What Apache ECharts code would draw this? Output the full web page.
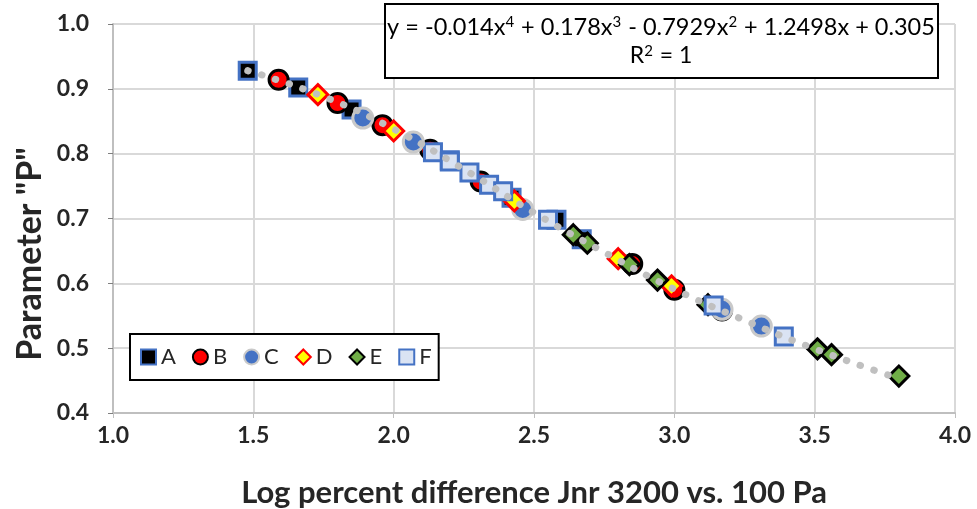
<!DOCTYPE html>
<html>
<head>
<meta charset="utf-8">
<script src="https://cdn.jsdelivr.net/npm/echarts@6/dist/echarts.min.js"></script>
<style>
  html, body { margin: 0; padding: 0; background: #fff; }
  #chart { width: 977px; height: 509px; }
</style>
</head>
<body>
<div id="chart"></div>
<script>
// data: [log % difference, parameter P]
var seriesA = [[1.48, 0.928], [1.66, 0.902], [1.85, 0.868], [2.20, 0.790], [2.42, 0.732], [2.58, 0.698], [2.67, 0.668]];
var seriesB = [[1.59, 0.914], [1.80, 0.878], [1.96, 0.844], [2.13, 0.806], [2.31, 0.757], [2.85, 0.630], [3.00, 0.590], [3.17, 0.558]];
var seriesC = [[1.89, 0.855], [2.07, 0.818], [2.46, 0.714], [3.17, 0.560], [3.31, 0.534]];
var seriesD = [[1.73, 0.891], [2.00, 0.835], [2.43, 0.727], [2.80, 0.638], [2.99, 0.596]];
var seriesE = [[2.64, 0.675], [2.69, 0.662], [2.84, 0.629], [2.94, 0.605], [3.12, 0.567], [3.51, 0.499], [3.56, 0.490], [3.80, 0.457]];
var seriesF = [[2.14, 0.802], [2.20, 0.788], [2.27, 0.771], [2.34, 0.752], [2.39, 0.742], [2.55, 0.698], [3.14, 0.566], [3.39, 0.518]];
// dotted polynomial trendline
var trendPts = [[1.48, 0.928], [1.75, 0.888], [2.0, 0.838], [2.25, 0.776], [2.5, 0.709], [2.75, 0.648], [3.0, 0.591], [3.25, 0.543], [3.5, 0.499], [3.8, 0.453]];

var xTicks = [1.0, 1.5, 2.0, 2.5, 3.0, 3.5, 4.0];
var yTicks = [0.4, 0.5, 0.6, 0.7, 0.8, 0.9, 1.0];
var xTitle = 'Log percent difference Jnr 3200 vs. 100 Pa';
var yTitle = 'Parameter "P"';
var eqLine1 = 'y = -0.014x{s|4} + 0.178x{s|3} - 0.7929x{s|2} + 1.2498x + 0.305';
var eqLine2 = 'R{s|2} = 1';

var chart = echarts.init(document.getElementById('chart'));

var fontFam = 'Lato, "Open Sans", sans-serif';

function markers(name, data, symbol, size, fill, border) {
  return {
    name: name,
    type: 'scatter',
    data: data,
    symbol: symbol,
    symbolSize: size,
    itemStyle: { color: fill, borderColor: border, borderWidth: 3, opacity: 1 },
    z: 3
  };
}

var supStyle = { s: { fontFamily: fontFam, fontSize: 15, fill: '#000', verticalAlign: 'top', padding: [0, 1, 0, 0] } };

chart.setOption({
  animation: false,
  grid: { left: 113, right: 22, top: 24, bottom: 96, outerBoundsMode: 'none', containLabel: false },
  xAxis: {
    type: 'value',
    min: xTicks[0],
    max: xTicks[xTicks.length - 1],
    interval: 0.5,
    name: xTitle,
    nameLocation: 'middle',
    nameGap: 64,
    nameTextStyle: { fontFamily: fontFam, fontSize: 31, fontWeight: 'bold', color: '#262626' },
    axisLine: { lineStyle: { color: '#bfbfbf', width: 2 } },
    axisTick: { show: true, length: 5, lineStyle: { color: '#bfbfbf' } },
    axisLabel: { fontFamily: fontFam, fontSize: 23, fontWeight: 'bold', color: '#262626', margin: 11,
      formatter: function (v) { return v.toFixed(1); } },
    splitLine: { lineStyle: { color: '#d9d9d9', width: 2 } }
  },
  yAxis: {
    type: 'value',
    min: yTicks[0],
    max: yTicks[yTicks.length - 1],
    interval: 0.1,
    axisLine: { show: true, lineStyle: { color: '#bfbfbf', width: 2 } },
    axisTick: { show: true, length: 5, lineStyle: { color: '#7f7f7f' } },
    axisLabel: { fontFamily: fontFam, fontSize: 23, fontWeight: 'bold', color: '#262626', margin: 24,
      formatter: function (v) { return v.toFixed(1); } },
    splitLine: { lineStyle: { color: '#d9d9d9', width: 2 } }
  },
  legend: {
    left: 130,
    top: 334,
    orient: 'horizontal',
    data: ['A', 'B', 'C', 'D', 'E', 'F'],
    itemWidth: 15,
    itemHeight: 15,
    itemGap: 16,
    padding: [12, 7, 12, 10],
    borderColor: '#000',
    borderWidth: 2,
    backgroundColor: '#fff',
    textStyle: { fontFamily: fontFam, fontSize: 22, color: '#262626' }
  },
  graphic: [{
    // y axis title sits a little below the axis middle in the original
    type: 'text',
    x: 30,
    y: 254,
    rotation: Math.PI / 2,
    style: { text: yTitle, fontFamily: fontFam, fontSize: 34, fontWeight: 'bold', fill: '#262626',
      align: 'center', verticalAlign: 'middle' }
  }, {
    type: 'group',
    left: 384,
    top: 3,
    z: 100,
    children: [{
      type: 'rect',
      z: 100,
      shape: { x: 0, y: 0, width: 553, height: 74 },
      style: { fill: '#fff', stroke: '#000', lineWidth: 2 }
    }, {
      type: 'text',
      z: 101,
      x: 276, y: 11,
      style: { text: eqLine1, fontFamily: fontFam, fontSize: 23.5, fill: '#000', align: 'center', rich: supStyle }
    }, {
      type: 'text',
      z: 101,
      x: 276, y: 40,
      style: { text: eqLine2, fontFamily: fontFam, fontSize: 23, fill: '#000', align: 'center', rich: supStyle }
    }]
  }],
  series: [
    markers('A', seriesA, 'rect', 17, '#000000', '#4472c4'),
    markers('B', seriesB, 'circle', 19, '#ff0000', '#000000'),
    markers('C', seriesC, 'circle', 20, '#4472c4', '#c9c9c9'),
    markers('D', seriesD, 'diamond', 20, '#ffff00', '#ff0000'),
    markers('E', seriesE, 'diamond', 20, '#70ad47', '#000000'),
    markers('F', seriesF, 'rect', 17, '#dae3f3', '#4472c4'),
    {
      name: 'trend',
      type: 'line',
      data: trendPts,
      smooth: true,
      showSymbol: false,
      lineStyle: { color: '#c0c0c0', width: 7, type: [0.5, 14], cap: 'round' },
      z: 5
    }
  ]
});
</script>
</body>
</html>
